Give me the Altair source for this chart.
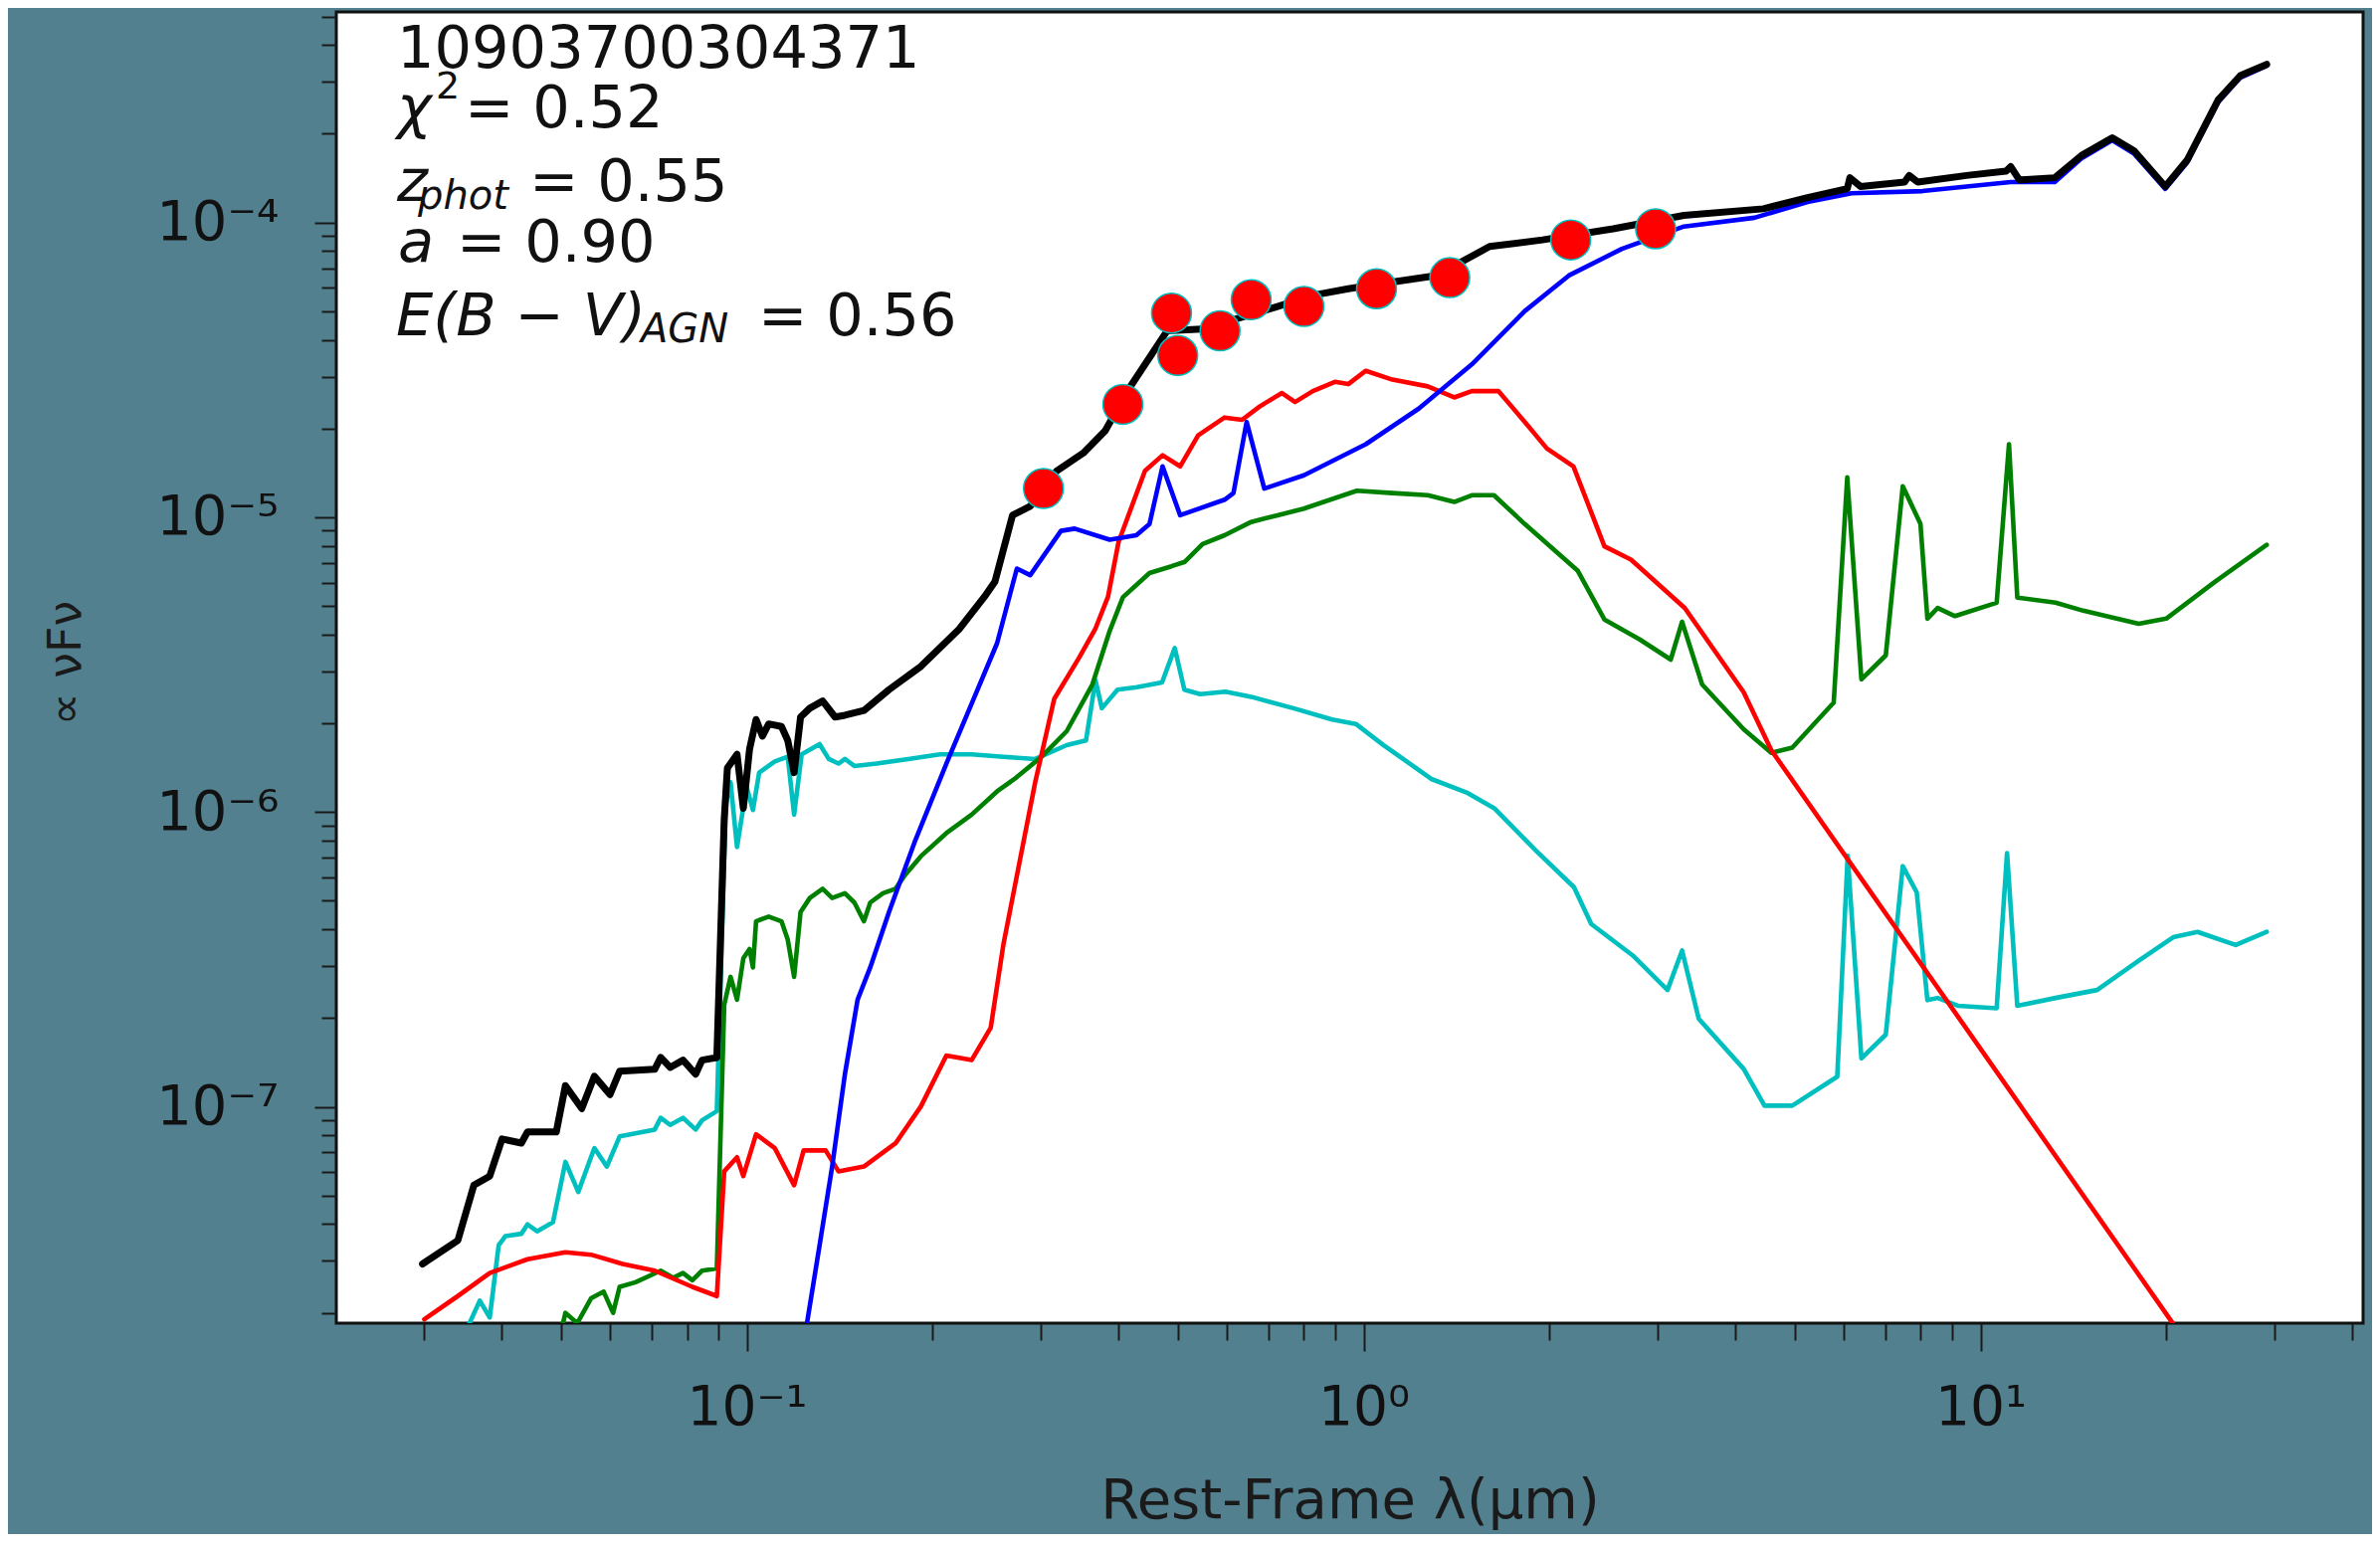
import altair as alt
import pandas as pd

BG = "#53808f"
FONT = "DejaVu Sans"

# ---- data (rest-frame wavelength in micron, nuFnu arbitrary) ----
black_lam = [0.0298, 0.0340, 0.0361, 0.0383, 0.0401, 0.0431, 0.0441, 0.0491, 0.0508, 0.0540,
             0.0566, 0.0600, 0.0622, 0.0709, 0.0725, 0.0751, 0.0788, 0.0826, 0.0846, 0.0894,
             0.0919, 0.0930, 0.0964, 0.0987, 0.101, 0.1035, 0.106, 0.1085, 0.1138, 0.1165,
             0.1193, 0.1222, 0.1265, 0.1327, 0.139, 0.1442, 0.1548, 0.170, 0.1915, 0.2208,
             0.2427, 0.2524, 0.2696, 0.288, 0.318, 0.351, 0.381, 0.414, 0.457, 0.480,
             0.557, 0.615, 0.725, 0.827, 0.944, 1.113, 1.312, 1.600, 1.949, 2.537,
             3.304, 4.446, 5.243, 6.08, 6.14, 6.39, 7.53, 7.66, 7.91, 9.49,
             11.0, 11.19, 11.56, 13.19, 14.57, 16.35, 17.75, 19.93, 21.63, 24.28,
             26.37, 29.1]
black_flux = [2.93e-8, 3.52e-8, 5.42e-8, 5.82e-8, 7.78e-8, 7.53e-8, 8.22e-8, 8.22e-8, 1.18e-7, 9.86e-8,
              1.27e-7, 1.10e-7, 1.32e-7, 1.34e-7, 1.47e-7, 1.36e-7, 1.44e-7, 1.29e-7, 1.44e-7, 1.47e-7,
              9.45e-7, 1.41e-6, 1.57e-6, 1.03e-6, 1.63e-6, 2.06e-6, 1.81e-6, 1.99e-6, 1.95e-6, 1.75e-6,
              1.36e-6, 2.10e-6, 2.25e-6, 2.38e-6, 2.10e-6, 2.13e-6, 2.21e-6, 2.60e-6, 3.12e-6, 4.17e-6,
              5.37e-6, 6.04e-6, 1.016e-5, 1.089e-5, 1.437e-5, 1.651e-5, 1.965e-5, 2.683e-5, 3.667e-5, 4.29e-5,
              4.36e-5, 4.68e-5, 5.19e-5, 5.66e-5, 5.96e-5, 6.28e-5, 6.61e-5, 8.29e-5, 8.73e-5, 9.52e-5,
              1.057e-4, 1.113e-4, 1.214e-4, 1.302e-4, 1.419e-4, 1.324e-4, 1.371e-4, 1.444e-4, 1.371e-4, 1.444e-4,
              1.494e-4, 1.547e-4, 1.394e-4, 1.419e-4, 1.687e-4, 1.939e-4, 1.747e-4, 1.324e-4, 1.630e-4, 2.605e-4,
              3.15e-4, 3.44e-4]

blue_lam = [0.120, 0.1312, 0.1375, 0.1442, 0.1512, 0.1585, 0.170, 0.187, 0.2106, 0.2314,
            0.2545, 0.274, 0.288, 0.323, 0.340, 0.3875, 0.428, 0.4495, 0.472, 0.504,
            0.595, 0.615, 0.646, 0.690, 0.800, 1.008, 1.228, 1.497, 1.825, 2.151,
            2.622, 3.304, 4.30, 5.243, 6.18, 8.05, 11.19, 13.19, 14.57, 16.35,
            17.75, 19.93, 21.63, 24.28, 26.37, 29.1]
blue_flux = [1.07e-8, 3.39e-8, 6.27e-8, 1.29e-7, 2.31e-7, 2.97e-7, 4.58e-7, 7.89e-7, 1.46e-6, 2.33e-6,
             3.74e-6, 6.70e-6, 6.36e-6, 8.99e-6, 9.15e-6, 8.39e-6, 8.69e-6, 9.48e-6, 1.488e-5, 1.016e-5,
             1.147e-5, 1.208e-5, 2.105e-5, 1.251e-5, 1.388e-5, 1.77e-5, 2.336e-5, 3.30e-5, 5.01e-5, 6.61e-5,
             8.14e-5, 9.69e-5, 1.038e-4, 1.173e-4, 1.257e-4, 1.278e-4, 1.371e-4, 1.371e-4, 1.65e-4, 1.90e-4,
             1.71e-4, 1.30e-4, 1.60e-4, 2.56e-4, 3.10e-4, 3.40e-4]

red_lam = [0.0300, 0.0340, 0.0383, 0.0441, 0.0508, 0.0559, 0.0629, 0.0709, 0.0816, 0.0894,
           0.0919, 0.0964, 0.0987, 0.1035, 0.111, 0.1193, 0.1236, 0.1342, 0.1408, 0.1548,
           0.1742, 0.1915, 0.2106, 0.2314, 0.2485, 0.2606, 0.2934, 0.315, 0.346, 0.367,
           0.385, 0.4005, 0.442, 0.472, 0.504, 0.539, 0.595, 0.635, 0.679, 0.737,
           0.774, 0.827, 0.898, 0.944, 1.008, 1.113, 1.270, 1.402, 1.497, 1.653,
           1.825, 1.982, 2.188, 2.456, 2.712, 3.316, 4.13, 4.58, 20.27, 30.0]
red_flux = [1.90e-8, 2.28e-8, 2.73e-8, 3.04e-8, 3.21e-8, 3.15e-8, 2.93e-8, 2.78e-8, 2.45e-8, 2.28e-8,
            6.04e-8, 6.74e-8, 5.82e-8, 8.07e-8, 7.24e-8, 5.42e-8, 7.11e-8, 7.11e-8, 6.04e-8, 6.27e-8,
            7.52e-8, 1.003e-7, 1.493e-7, 1.44e-7, 1.854e-7, 3.56e-7, 1.262e-6, 2.42e-6, 3.35e-6, 4.17e-6,
            5.37e-6, 8.25e-6, 1.437e-5, 1.623e-5, 1.488e-5, 1.897e-5, 2.18e-5, 2.14e-5, 2.38e-5, 2.64e-5,
            2.46e-5, 2.68e-5, 2.88e-5, 2.83e-5, 3.14e-5, 2.93e-5, 2.78e-5, 2.55e-5, 2.68e-5, 2.68e-5,
            2.105e-5, 1.71e-5, 1.488e-5, 7.97e-6, 7.18e-6, 4.92e-6, 2.55e-6, 1.62e-6, 1.905e-8, 5.9e-9]

green_lam = [0.0497, 0.0508, 0.0531, 0.0559, 0.0586, 0.0607, 0.0622, 0.0660, 0.0725, 0.0760,
             0.0788, 0.0816, 0.0846, 0.0894, 0.0919, 0.0941, 0.0964, 0.0987, 0.101, 0.1023,
             0.1035, 0.1085, 0.1138, 0.1165, 0.1193, 0.1222, 0.1265, 0.1327, 0.1375, 0.1442,
             0.1494, 0.1548, 0.1585, 0.1662, 0.1742, 0.1805, 0.1915, 0.2106, 0.2314, 0.2545,
             0.2734, 0.3004, 0.330, 0.363, 0.3875, 0.407, 0.4495, 0.488, 0.513, 0.548,
             0.595, 0.657, 0.725, 0.800, 0.975, 1.113, 1.270, 1.402, 1.497, 1.626,
             1.825, 2.224, 2.456, 2.802, 3.146, 3.282, 3.537, 4.13, 4.58, 4.952,
             5.78, 6.08, 6.41, 7.02, 7.48, 7.99, 8.20, 8.52, 9.09, 10.62,
             11.12, 11.47, 13.23, 14.67, 18.05, 20.0, 23.98, 29.1]
green_flux = [1.64e-8, 2.00e-8, 1.845e-8, 2.24e-8, 2.36e-8, 2.00e-8, 2.45e-8, 2.54e-8, 2.78e-8, 2.63e-8,
              2.73e-8, 2.58e-8, 2.78e-8, 2.83e-8, 2.22e-7, 2.76e-7, 2.31e-7, 3.19e-7, 3.43e-7, 2.97e-7,
              4.26e-7, 4.42e-7, 4.26e-7, 3.69e-7, 2.76e-7, 4.58e-7, 5.11e-7, 5.49e-7, 5.11e-7, 5.30e-7,
              4.93e-7, 4.26e-7, 4.93e-7, 5.30e-7, 5.49e-7, 6.12e-7, 7.08e-7, 8.48e-7, 9.80e-7, 1.175e-6,
              1.309e-6, 1.54e-6, 1.88e-6, 2.70e-6, 4.12e-6, 5.35e-6, 6.47e-6, 6.82e-6, 7.06e-6, 8.11e-6,
              8.69e-6, 9.64e-6, 1.016e-5, 1.07e-5, 1.23e-5, 1.208e-5, 1.188e-5, 1.127e-5, 1.188e-5, 1.188e-5,
              9.48e-6, 6.58e-6, 4.50e-6, 3.85e-6, 3.29e-6, 4.42e-6, 2.71e-6, 1.91e-6, 1.588e-6, 1.654e-6,
              2.35e-6, 1.365e-5, 2.82e-6, 3.40e-6, 1.274e-5, 9.50e-6, 4.53e-6, 4.92e-6, 4.62e-6, 5.13e-6,
              1.77e-5, 5.34e-6, 5.13e-6, 4.82e-6, 4.35e-6, 4.53e-6, 6.04e-6, 8.06e-6]

cyan_lam = [0.0352, 0.0369, 0.0383, 0.0396, 0.0406, 0.0431, 0.0441, 0.0457, 0.0485, 0.0508,
            0.0533, 0.0566, 0.0593, 0.0622, 0.0709, 0.0725, 0.0751, 0.0788, 0.0826, 0.0846,
            0.0894, 0.0924, 0.0941, 0.0964, 0.0999, 0.1023, 0.1047, 0.111, 0.1165, 0.1193,
            0.1227, 0.1312, 0.1358, 0.1408, 0.1442, 0.1494, 0.1623, 0.1827, 0.2056, 0.2314,
            0.2606, 0.2934, 0.330, 0.3547, 0.3674, 0.3763, 0.399, 0.4287, 0.471, 0.494,
            0.512, 0.543, 0.597, 0.657, 0.769, 0.889, 0.971, 1.076, 1.290, 1.468,
            1.628, 1.901, 2.192, 2.338, 2.731, 3.108, 3.282, 3.492, 4.13, 4.464,
            4.952, 5.857, 6.09, 6.41, 7.02, 7.48, 7.88, 8.20, 8.52, 9.21,
            10.62, 11.04, 11.47, 13.23, 15.45, 18.05, 20.53, 22.48, 25.92, 29.1]
cyan_flux = [1.77e-8, 2.20e-8, 1.93e-8, 3.39e-8, 3.64e-8, 3.71e-8, 3.99e-8, 3.78e-8, 4.06e-8, 6.50e-8,
             5.14e-8, 7.24e-8, 6.27e-8, 7.93e-8, 8.37e-8, 9.17e-8, 8.68e-8, 9.17e-8, 8.37e-8, 9.00e-8,
             9.67e-8, 1.053e-6, 1.262e-6, 7.61e-7, 1.217e-6, 1.016e-6, 1.36e-6, 1.485e-6, 1.54e-6, 9.80e-7,
             1.57e-6, 1.70e-6, 1.513e-6, 1.46e-6, 1.513e-6, 1.433e-6, 1.46e-6, 1.513e-6, 1.57e-6, 1.57e-6,
             1.54e-6, 1.513e-6, 1.686e-6, 1.75e-6, 2.80e-6, 2.25e-6, 2.60e-6, 2.65e-6, 2.75e-6, 3.60e-6,
             2.60e-6, 2.51e-6, 2.56e-6, 2.46e-6, 2.25e-6, 2.06e-6, 1.99e-6, 1.688e-6, 1.292e-6, 1.165e-6,
             1.03e-6, 7.41e-7, 5.56e-7, 4.17e-7, 3.26e-7, 2.49e-7, 3.39e-7, 1.99e-7, 1.345e-7, 1.009e-7,
             1.009e-7, 1.265e-7, 7.11e-7, 1.46e-7, 1.757e-7, 6.55e-7, 5.34e-7, 2.30e-7, 2.34e-7, 2.20e-7,
             2.16e-7, 7.26e-7, 2.20e-7, 2.34e-7, 2.49e-7, 3.13e-7, 3.76e-7, 3.92e-7, 3.54e-7, 3.92e-7]

phot_lam = [0.3026, 0.407, 0.488, 0.4995, 0.585, 0.657, 0.800, 1.049, 1.379, 2.166, 2.973]
phot_flux = [1.252e-5, 2.416e-5, 4.93e-5, 3.54e-5, 4.29e-5, 5.47e-5, 5.19e-5, 5.96e-5, 6.50e-5, 8.73e-5, 9.52e-5]

x_ticks = [0.03, 0.04, 0.05, 0.06, 0.07, 0.08, 0.09, 0.1, 0.2, 0.3, 0.4, 0.5, 0.6, 0.7, 0.8, 0.9,
           1, 2, 3, 4, 5, 6, 7, 8, 9, 10, 20, 30, 40]
y_ticks = [2e-8, 3e-8, 4e-8, 5e-8, 6e-8, 7e-8, 8e-8, 9e-8,
           1e-7, 2e-7, 3e-7, 4e-7, 5e-7, 6e-7, 7e-7, 8e-7, 9e-7,
           1e-6, 2e-6, 3e-6, 4e-6, 5e-6, 6e-6, 7e-6, 8e-6, 9e-6,
           1e-5, 2e-5, 3e-5, 4e-5, 5e-5, 6e-5, 7e-5, 8e-5, 9e-5,
           1e-4, 2e-4, 3e-4, 4e-4, 5e-4]

# ---- layout ----
W, H = 2037, 1318
E = "round(log(datum.value)/LN10)"
MAJOR = f"abs(log(datum.value)/LN10 - {E}) < 0.001"

x_label_expr = (f"!({MAJOR}) ? '' : {E} == -1 ? '10⁻¹' : {E} == 0 ? '10⁰' : {E} == 1 ? '10¹' : ''")
y_label_expr = (f"!({MAJOR}) ? '' : {E} == -4 ? '10⁻⁴' : {E} == -5 ? '10⁻⁵' : "
                f"{E} == -6 ? '10⁻⁶' : {E} == -7 ? '10⁻⁷' : ''")

X = alt.X("lam:Q",
          scale=alt.Scale(type="log", domain=[0.0216, 41.7], nice=False),
          axis=alt.Axis(values=x_ticks, labelExpr=x_label_expr, grid=False, domain=False,
                        tickSize={"condition": {"test": MAJOR, "value": 28}, "value": 17},
                        tickWidth=2, tickColor="#1a1a1a",
                        labelFont=FONT, labelFontSize=55, labelColor="#111111",
                        labelPadding=30, labelOverlap=False, labelFlush=False,
                        title="Rest-Frame λ(μm)", titleFont=FONT, titleFontSize=56,
                        titleFontWeight="normal", titleColor="#1a1a1a",
                        titleX=W / 2, titleY=195, titleAlign="center",
                        titleBaseline="alphabetic"))
Y = alt.Y("flux:Q",
          scale=alt.Scale(type="log", domain=[1.845e-8, 5.18e-4], nice=False),
          axis=alt.Axis(values=y_ticks, labelExpr=y_label_expr, grid=False, domain=False,
                        tickSize={"condition": {"test": MAJOR, "value": 22}, "value": 15},
                        tickWidth=2, tickColor="#1a1a1a",
                        labelFont=FONT, labelFontSize=56, labelColor="#111111",
                        labelPadding=36, labelOverlap=False, labelFlush=False,
                        title="∝ νFν", titleFont=FONT, titleFontSize=46,
                        titleFontWeight="normal", titleColor="#1a1a1a",
                        titleX=-272, titleY=654, titleAngle=270, titleAlign="center",
                        titleBaseline="middle"))


def series(lam, flux, color, width):
    df = pd.DataFrame({"lam": lam, "flux": flux})
    return alt.Chart(df).mark_line(color=color, strokeWidth=width, clip=True,
                                   strokeJoin="round", strokeCap="round").encode(x=X, y=Y)


cyan = series(cyan_lam, cyan_flux, "#00bfbf", 4.6)
green = series(green_lam, green_flux, "#008000", 4.6)
red = series(red_lam, red_flux, "#ff0000", 4.6)
blue = series(blue_lam, blue_flux, "#0000ff", 4.6)
black = series(black_lam, black_flux, "#000000", 7)

dots = alt.Chart(pd.DataFrame({"lam": phot_lam, "flux": phot_flux})).mark_circle(
    size=1600, color="#ff0000", opacity=1, stroke="#00bfbf", strokeWidth=1.5
).encode(x=X, y=Y)


def label(text, px, py, size=59, italic=False):
    return alt.Chart(pd.DataFrame({"t": [text]})).mark_text(
        font=FONT, fontSize=size, fontStyle="italic" if italic else "normal",
        color="#111111", align="left", baseline="alphabetic"
    ).encode(text="t:N", x=alt.value(px), y=alt.value(py))


obj_id = "10903700304371"
chi2 = "0.52"
zphot = "0.55"
a_val = "0.90"
ebv = "0.56"

texts = [
    label(obj_id, 61, 56),
    label("χ", 61, 116, italic=True),
    label("2", 100, 87, size=38),
    label("= " + chi2, 129, 116),
    label("z", 61, 190, italic=True),
    label("phot", 82, 198, size=40, italic=True),
    label("= " + zphot, 194, 190),
    label("a", 62, 251, italic=True),
    label("= " + a_val, 121, 251),
    label("E(B − V)", 60, 325, italic=True),
    label("AGN", 306, 332, size=40, italic=True),
    label("= " + ebv, 424, 325),
]

chart = alt.layer(cyan, green, red, blue, black, dots, *texts).properties(
    width=W, height=H, background=BG,
    padding={"left": 330, "top": 4, "right": 9, "bottom": 212},
    autosize=alt.AutoSizeParams(type="none"),
).configure_view(fill="white", stroke="#111111", strokeWidth=3)

chart.save("out.html", embed_options={"renderer": "svg", "actions": False})
